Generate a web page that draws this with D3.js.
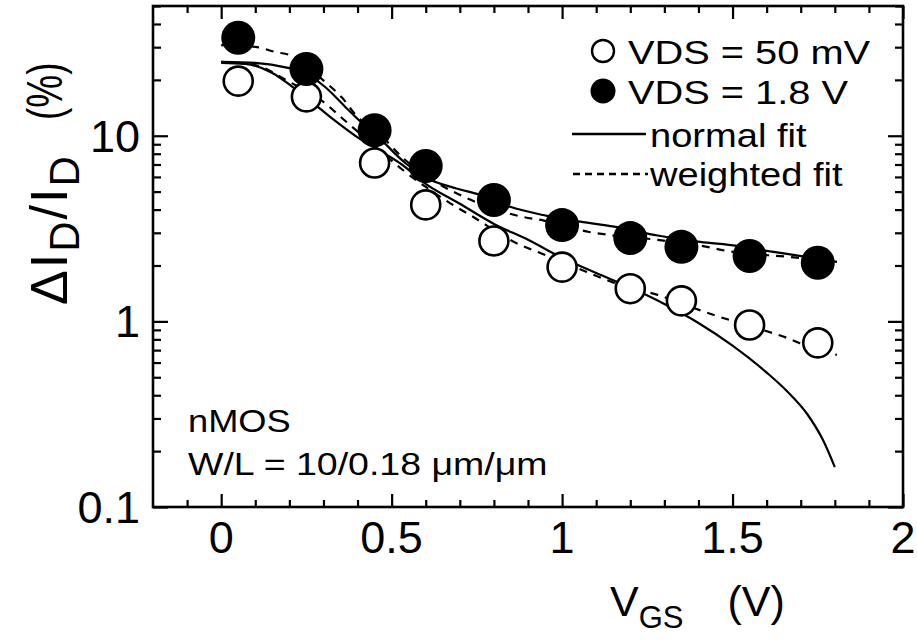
<!DOCTYPE html>
<html><head><meta charset="utf-8">
<script src="https://cdn.jsdelivr.net/npm/d3@7"></script>
<style>
body{margin:0;background:#fff}
text{font-family:"Liberation Sans",Arial,Helvetica,sans-serif;fill:#000}
</style>
</head><body>
<svg id="c" width="917" height="640"></svg>
<script>
// ---- data ----
const vgs    = [0.05, 0.25, 0.45, 0.6, 0.8, 1.0, 1.2, 1.35, 1.55, 1.75];
const vds50  = [19.7, 16.2, 7.13, 4.24, 2.71, 1.96, 1.50, 1.29, 0.956, 0.766];
const vds18  = [33.7, 22.9, 10.7, 6.87, 4.51, 3.30, 2.81, 2.52, 2.25, 2.07];

const normal50X = [0.00, 0.07, 0.15, 0.21, 0.27, 0.33, 0.40, 0.48, 0.53, 0.60, 0.70, 0.80, 0.90, 1.00, 1.10, 1.20, 1.30, 1.40, 1.50, 1.60, 1.66, 1.72, 1.765, 1.80];
const normal50Y = [24.7, 24.4, 21.8, 18.3, 15.0, 12.2, 9.8, 8.0, 7.0, 5.5, 4.3, 3.35, 2.75, 2.2, 1.82, 1.52, 1.24, 0.98, 0.74, 0.53, 0.42, 0.315, 0.23, 0.164];

const normal18X = [0.00, 0.10, 0.196, 0.246, 0.305, 0.364, 0.413, 0.46, 0.54, 0.604, 0.69, 0.76, 0.85, 0.944, 1.053, 1.17, 1.28, 1.405, 1.513, 1.60, 1.72, 1.806];
const normal18Y = [25.0, 24.7, 23.2, 21.8, 18.3, 14.3, 11.7, 9.86, 7.13, 5.9, 5.2, 4.8, 4.13, 3.74, 3.45, 3.2, 2.9, 2.68, 2.55, 2.40, 2.22, 2.09];

const weighted18X = [0.00, 0.10, 0.158, 0.208, 0.25, 0.305, 0.355, 0.40, 0.457, 0.54, 0.633, 0.69, 0.886, 0.944, 1.08, 1.14, 1.28, 1.425, 1.47, 1.67, 1.806];
const weighted18Y = [30.8, 30.1, 28.3, 26.9, 23.6, 19.5, 16.0, 12.6, 10.5, 7.4, 5.57, 4.9, 3.65, 3.5, 3.03, 2.92, 2.75, 2.52, 2.42, 2.22, 2.09];

const weighted50X = [0.00, 0.10, 0.20, 0.30, 0.36, 0.45, 0.53, 0.60, 0.67, 0.73, 0.877, 0.927, 1.023, 1.20, 1.28, 1.375, 1.463, 1.56, 1.66, 1.748, 1.806];
const weighted50Y = [25.0, 24.0, 19.5, 15.2, 12.2, 8.8, 6.6, 5.3, 4.35, 3.74, 2.58, 2.37, 2.01, 1.51, 1.39, 1.20, 1.056, 0.933, 0.814, 0.70, 0.66];

const xTickLabels = [0, 0.5, 1, 1.5, 2];
const yTickLabels = [0.1, 1, 10];
const legendLabels = ["VDS = 50 mV", "VDS = 1.8 V", "normal fit", "weighted fit"];

// ---- drawing ----
const svg = d3.select("#c");
const L = 153, R = 903, T = 6, B = 507;
const x = d3.scaleLinear().domain([-0.2, 2]).range([L, R]);
const y = d3.scaleLog().domain([0.1, 50]).range([B, T]);

const xMajor = xTickLabels;
const xMinor = d3.range(-1, 20).map(i => i / 10).filter(v => Math.abs(v * 2 - Math.round(v * 2)) > 1e-6);
const yAll = y.ticks();
const yMajor = yTickLabels;
const yMinor = yAll.filter(v => !yMajor.some(m => Math.abs(m - v) < 1e-9));

function styleAxis(g) {
  g.select(".domain").remove();
  g.selectAll("line").attr("stroke", "#000").attr("stroke-width", 2.2);
  g.selectAll("text").remove();
}
svg.append("g").attr("transform", `translate(0,${B})`).call(d3.axisBottom(x).tickValues(xMajor).tickSize(-13)).call(styleAxis);
svg.append("g").attr("transform", `translate(0,${B})`).call(d3.axisBottom(x).tickValues(xMinor).tickSize(-7)).call(styleAxis);
svg.append("g").attr("transform", `translate(0,${T})`).call(d3.axisTop(x).tickValues(xMajor).tickSize(-13)).call(styleAxis);
svg.append("g").attr("transform", `translate(0,${T})`).call(d3.axisTop(x).tickValues(xMinor).tickSize(-7)).call(styleAxis);
svg.append("g").attr("transform", `translate(${L},0)`).call(d3.axisLeft(y).tickValues(yMajor).tickSize(-15)).call(styleAxis);
svg.append("g").attr("transform", `translate(${L},0)`).call(d3.axisLeft(y).tickValues(yMinor).tickSize(-8)).call(styleAxis);
svg.append("g").attr("transform", `translate(${R},0)`).call(d3.axisRight(y).tickValues(yMajor).tickSize(-15)).call(styleAxis);
svg.append("g").attr("transform", `translate(${R},0)`).call(d3.axisRight(y).tickValues(yMinor).tickSize(-8)).call(styleAxis);

svg.append("rect").attr("x", L).attr("y", T).attr("width", R - L).attr("height", B - T)
  .attr("fill", "none").attr("stroke", "#000").attr("stroke-width", 2.6);

svg.append("g").selectAll("text").data(xTickLabels).join("text")
  .attr("x", d => x(d)).attr("y", B + 46).attr("text-anchor", "middle")
  .attr("font-size", 45).text(d => d);
svg.append("g").selectAll("text").data(yTickLabels).join("text")
  .attr("x", L - 13).attr("y", d => y(d) + 16).attr("text-anchor", "end")
  .attr("font-size", 45).text(d => d);

const line = d3.line().x(d => x(d[0])).y(d => y(d[1])).curve(d3.curveMonotoneX);
const zip = (a, b) => a.map((v, i) => [v, b[i]]);
svg.append("clipPath").attr("id", "pc").append("rect")
  .attr("x", L).attr("y", T).attr("width", R - L).attr("height", B - T);
const plot = svg.append("g").attr("clip-path", "url(#pc)");
plot.append("path").attr("d", line(zip(normal50X, normal50Y))).attr("fill", "none").attr("stroke", "#000").attr("stroke-width", 2.2);
plot.append("path").attr("d", line(zip(normal18X, normal18Y))).attr("fill", "none").attr("stroke", "#000").attr("stroke-width", 2.2);
plot.append("path").attr("d", line(zip(weighted50X, weighted50Y))).attr("fill", "none").attr("stroke", "#000").attr("stroke-width", 2.2).attr("stroke-dasharray", "8,7");
plot.append("path").attr("d", line(zip(weighted18X, weighted18Y))).attr("fill", "none").attr("stroke", "#000").attr("stroke-width", 2.2).attr("stroke-dasharray", "8,7");

plot.append("g").selectAll("circle").data(zip(vgs, vds50)).join("circle")
  .attr("cx", d => x(d[0])).attr("cy", d => y(d[1])).attr("r", 14.5)
  .attr("fill", "#fff").attr("stroke", "#000").attr("stroke-width", 2.6);
plot.append("g").selectAll("circle").data(zip(vgs, vds18)).join("circle")
  .attr("cx", d => x(d[0])).attr("cy", d => y(d[1])).attr("r", 17)
  .attr("fill", "#000");

function stext(g, tx, ty, s, fs, sx) {
  return g.append("text").attr("transform", `translate(${tx},${ty}) scale(${sx},1)`).attr("font-size", fs).text(s);
}
const lg = svg.append("g");
lg.append("circle").attr("cx", 603).attr("cy", 51).attr("r", 11).attr("fill", "#fff").attr("stroke", "#000").attr("stroke-width", 2.4);
lg.append("circle").attr("cx", 603).attr("cy", 91).attr("r", 12.5).attr("fill", "#000");
lg.append("line").attr("x1", 572).attr("x2", 646).attr("y1", 134).attr("y2", 134).attr("stroke", "#000").attr("stroke-width", 2.4);
lg.append("line").attr("x1", 573).attr("x2", 648).attr("y1", 174).attr("y2", 174).attr("stroke", "#000").attr("stroke-width", 2.4).attr("stroke-dasharray", "7,5");
stext(lg, 628, 64, legendLabels[0], 34, 1.17);
stext(lg, 628, 104, legendLabels[1], 34, 1.17);
stext(lg, 650, 147, legendLabels[2], 34, 1.12);
stext(lg, 650, 186, legendLabels[3], 34, 1.12);

stext(svg, 188, 432, "nMOS", 31, 1.17);
stext(svg, 188, 475, "W/L = 10/0.18 \u03bcm/\u03bcm", 31, 1.21);

const xt = svg.append("text").attr("x", 610).attr("y", 616).attr("font-size", 43);
xt.append("tspan").text("V");
xt.append("tspan").attr("font-size", 31).attr("dy", 12).text("GS");
xt.append("tspan").attr("dy", -12).attr("dx", 44).text("(V)");

const yt = svg.append("text").attr("transform", "translate(67,305) rotate(-90)").attr("font-size", 52);
yt.append("tspan").attr("letter-spacing", 2).text("\u0394I");
yt.append("tspan").attr("font-size", 42).attr("dy", 12).attr("letter-spacing", 2).text("D");
yt.append("tspan").attr("dy", -12).attr("letter-spacing", 2).text("/I");
yt.append("tspan").attr("font-size", 42).attr("dy", 12).text("D");
svg.append("text").attr("transform", "translate(62,120) rotate(-90) scale(0.74,1)").attr("font-size", 50).text("(%)");
</script>
</body></html>
